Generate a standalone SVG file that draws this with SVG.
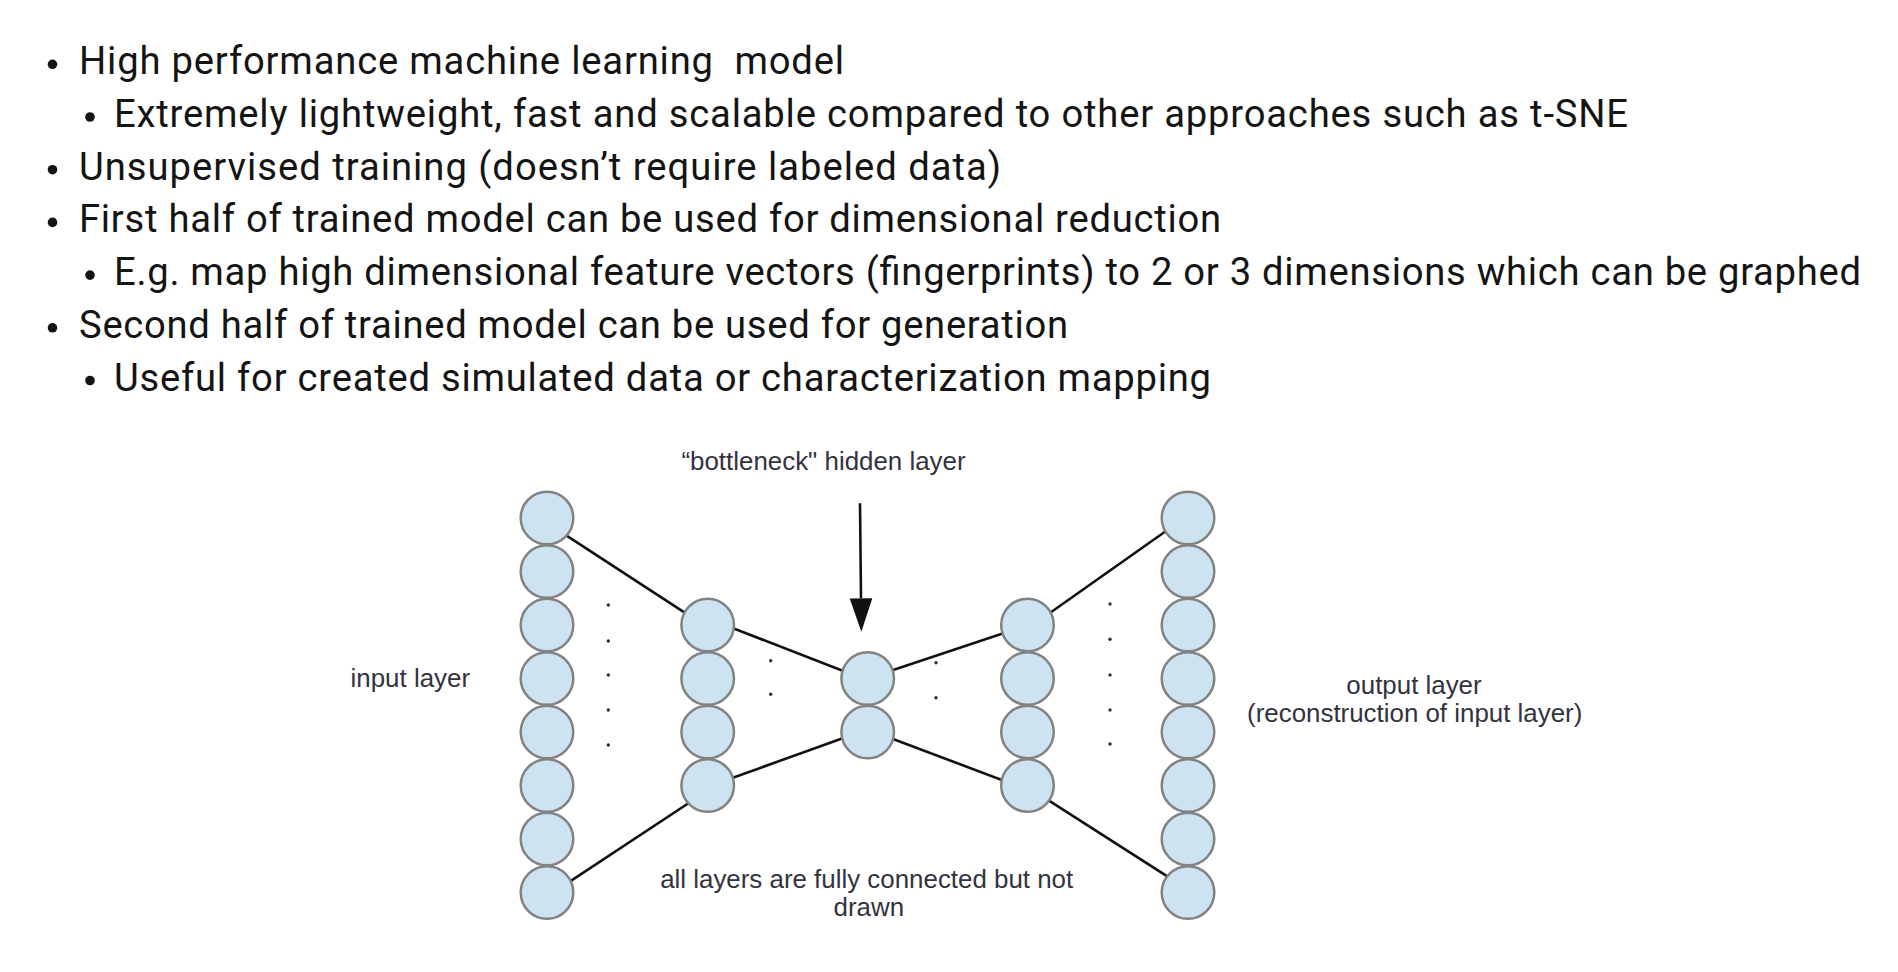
<svg xmlns="http://www.w3.org/2000/svg" width="1898" height="972" viewBox="0 0 1898 972">
<style>
.bt{font-family:Roboto,Lato,"Noto Sans","Liberation Sans",sans-serif;font-size:38.2px;fill:#141414}
.bl{fill:#141414}
.dt{font-family:"Liberation Sans",Arial,sans-serif;font-size:25.9px;fill:#333340}
.n{fill:#cde3f1;stroke:#828282;stroke-width:2.5}
.c{stroke:#111;stroke-width:2.6;fill:none}
.d{fill:#2c2c44}
</style>
<defs>
<marker id="ah" markerUnits="userSpaceOnUse" viewBox="0 -12 36 24" markerWidth="36" markerHeight="24" refX="0" refY="0" orient="auto">
<path d="M0,-11.3 L33.4,0 L0,11.3 Z" fill="#111"/>
</marker>
</defs>
<rect width="1898" height="972" fill="#fff"/>
<g id="bullets">
<circle class="bl" cx="52.5" cy="64.3" r="4.8"/>
<circle class="bl" cx="90" cy="117" r="4.8"/>
<circle class="bl" cx="52.5" cy="169.7" r="4.8"/>
<circle class="bl" cx="52.5" cy="222.4" r="4.8"/>
<circle class="bl" cx="90" cy="275.1" r="4.8"/>
<circle class="bl" cx="52.5" cy="327.8" r="4.8"/>
<circle class="bl" cx="90" cy="380.5" r="4.8"/>
<text class="bt" x="79" y="74.3" xml:space="preserve" textLength="765" lengthAdjust="spacing">High performance machine learning  model</text>
<text class="bt" x="114" y="127" textLength="1514" lengthAdjust="spacing">Extremely lightweight, fast and scalable compared to other approaches such as t-SNE</text>
<text class="bt" x="79" y="179.7" textLength="922" lengthAdjust="spacing">Unsupervised training (doesn’t require labeled data)</text>
<text class="bt" x="79" y="232.4" textLength="1142" lengthAdjust="spacing">First half of trained model can be used for dimensional reduction</text>
<text class="bt" x="114" y="285.1" textLength="1747" lengthAdjust="spacing">E.g. map high dimensional feature vectors (fingerprints) to 2 or 3 dimensions which can be graphed</text>
<text class="bt" x="79" y="337.8" textLength="989" lengthAdjust="spacing">Second half of trained model can be used for generation</text>
<text class="bt" x="114" y="390.5" textLength="1097" lengthAdjust="spacing">Useful for created simulated data or characterization mapping</text>
</g>
<g id="connectors">
<line class="c" x1="547" y1="522.8" x2="707.7" y2="627.6"/>
<line class="c" x1="707.7" y1="618.4" x2="867.7" y2="680.5"/>
<line class="c" x1="707.7" y1="786.8" x2="867.7" y2="729.2"/>
<line class="c" x1="547" y1="896.7" x2="707.7" y2="790.5"/>
<line class="c" x1="867.7" y1="678.4" x2="1027.5" y2="625.1"/>
<line class="c" x1="867.7" y1="729.5" x2="1027.5" y2="789.6"/>
<line class="c" x1="1027.5" y1="628.8" x2="1188" y2="515.5"/>
<line class="c" x1="1027.5" y1="786.8" x2="1188" y2="889.7"/>
<line class="c" x1="860" y1="503.3" x2="861" y2="598.3" marker-end="url(#ah)"/>
</g>
<g id="input-layer">
<circle class="n" cx="547" cy="518" r="26.3"/>
<circle class="n" cx="547" cy="571.5" r="26.3"/>
<circle class="n" cx="547" cy="625" r="26.3"/>
<circle class="n" cx="547" cy="678.5" r="26.3"/>
<circle class="n" cx="547" cy="732" r="26.3"/>
<circle class="n" cx="547" cy="785.5" r="26.3"/>
<circle class="n" cx="547" cy="839" r="26.3"/>
<circle class="n" cx="547" cy="892.5" r="26.3"/>
</g>
<g id="hidden-layer-1">
<circle class="n" cx="707.7" cy="625" r="26.3"/>
<circle class="n" cx="707.7" cy="678.5" r="26.3"/>
<circle class="n" cx="707.7" cy="732" r="26.3"/>
<circle class="n" cx="707.7" cy="785.5" r="26.3"/>
</g>
<g id="bottleneck-layer">
<circle class="n" cx="867.7" cy="678.5" r="26.3"/>
<circle class="n" cx="867.7" cy="732" r="26.3"/>
</g>
<g id="hidden-layer-2">
<circle class="n" cx="1027.5" cy="625" r="26.3"/>
<circle class="n" cx="1027.5" cy="678.5" r="26.3"/>
<circle class="n" cx="1027.5" cy="732" r="26.3"/>
<circle class="n" cx="1027.5" cy="785.5" r="26.3"/>
</g>
<g id="output-layer">
<circle class="n" cx="1188" cy="518" r="26.3"/>
<circle class="n" cx="1188" cy="571.5" r="26.3"/>
<circle class="n" cx="1188" cy="625" r="26.3"/>
<circle class="n" cx="1188" cy="678.5" r="26.3"/>
<circle class="n" cx="1188" cy="732" r="26.3"/>
<circle class="n" cx="1188" cy="785.5" r="26.3"/>
<circle class="n" cx="1188" cy="839" r="26.3"/>
<circle class="n" cx="1188" cy="892.5" r="26.3"/>
</g>
<g id="ellipsis-dots">
<circle class="d" cx="608.3" cy="605" r="1.7"/>
<circle class="d" cx="608.3" cy="641" r="1.7"/>
<circle class="d" cx="608.3" cy="675" r="1.7"/>
<circle class="d" cx="608.3" cy="710" r="1.7"/>
<circle class="d" cx="608.3" cy="745" r="1.7"/>
<circle class="d" cx="770.7" cy="660.7" r="1.7"/>
<circle class="d" cx="770.7" cy="694.3" r="1.7"/>
<circle class="d" cx="936" cy="662.7" r="1.7"/>
<circle class="d" cx="936" cy="697.7" r="1.7"/>
<circle class="d" cx="1110" cy="604" r="1.7"/>
<circle class="d" cx="1110" cy="639.3" r="1.7"/>
<circle class="d" cx="1110" cy="675" r="1.7"/>
<circle class="d" cx="1110" cy="710" r="1.7"/>
<circle class="d" cx="1110" cy="744" r="1.7"/>
</g>
<g id="labels">
<text class="dt" x="823.5" y="470" text-anchor="middle">“bottleneck" hidden layer</text>
<text class="dt" x="410.3" y="686.7" text-anchor="middle">input layer</text>
<text class="dt" x="1414" y="694.3" text-anchor="middle">output layer</text>
<text class="dt" x="1414.7" y="721.7" text-anchor="middle">(reconstruction of input layer)</text>
<text class="dt" x="866.7" y="888.3" text-anchor="middle">all layers are fully connected but not</text>
<text class="dt" x="868.8" y="915.7" text-anchor="middle">drawn</text>
</g>
</svg>
